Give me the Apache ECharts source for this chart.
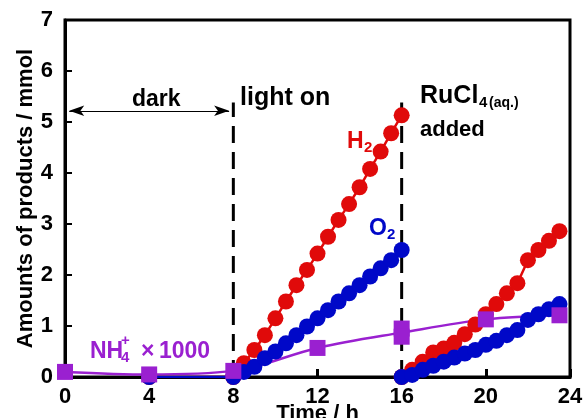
<!DOCTYPE html>
<html>
<head>
<meta charset="utf-8">
<script src="https://cdn.jsdelivr.net/npm/echarts@6/dist/echarts.min.js"></script>
<style>html,body{margin:0;padding:0;background:#fff}#c{width:586px;height:418px}</style>
</head>
<body>
<div id="c"></div>
<script>
// ---- data ----
var xTicks = [0, 4, 8, 12, 16, 20, 24];
var yTicks = [0, 1, 2, 3, 4, 5, 6, 7];
var h2TimeA = [4, 8, 8.5, 9, 9.5, 10, 10.5, 11, 11.5, 12, 12.5, 13, 13.5, 14, 14.5, 15, 15.5, 16];
var h2ValA  = [0, 0, 0.27, 0.53, 0.82, 1.15, 1.48, 1.80, 2.10, 2.42, 2.75, 3.08, 3.39, 3.72, 4.08, 4.42, 4.78, 5.13];
var o2TimeA = [4, 8, 8.5, 9, 9.5, 10, 10.5, 11, 11.5, 12, 12.5, 13, 13.5, 14, 14.5, 15, 15.5, 16];
var o2ValA  = [0, 0, 0.10, 0.20, 0.37, 0.50, 0.66, 0.82, 0.99, 1.15, 1.31, 1.48, 1.64, 1.80, 1.97, 2.13, 2.29, 2.49];
var h2TimeB = [16, 16.5, 17, 17.5, 18, 18.5, 19, 19.5, 20, 20.5, 21, 21.5, 22, 22.5, 23, 23.5];
var h2ValB  = [0, 0.14, 0.30, 0.48, 0.56, 0.67, 0.84, 1.03, 1.23, 1.43, 1.64, 1.84, 2.29, 2.49, 2.67, 2.86];
var o2TimeB = [16, 16.5, 17, 17.5, 18, 18.5, 19, 19.5, 20, 20.5, 21, 21.5, 22, 22.5, 23, 23.5];
var o2ValB  = [0, 0.04, 0.14, 0.22, 0.30, 0.38, 0.46, 0.53, 0.63, 0.71, 0.82, 0.92, 1.12, 1.23, 1.33, 1.43];
var nhTime  = [0, 4, 8, 12, 16, 16, 20, 23.5];
var nhVal   = [0.10, 0.05, 0.12, 0.57, 0.95, 0.79, 1.13, 1.21];
var nhCurveTime = [0, 4, 8, 12, 16, 20, 23.5];
var nhCurveVal  = [0.10, 0.05, 0.12, 0.57, 0.87, 1.13, 1.21];
var eventTimes = [8, 16];
var eventTop = 5.38;
var darkSpan = [0.2, 7.8];
var darkLevel = 5.22;

function pairs(xs, ys) { return xs.map(function (x, i) { return [x, ys[i]]; }); }

var RED = '#e00a0a', BLUE = '#0008c8', PURPLE = '#9a20d0';
var FONT = '"Liberation Sans", Arial, sans-serif';

var chart = echarts.init(document.getElementById('c'), null, {renderer: 'canvas'});

var series = [];
series.push({type: 'line', data: pairs(nhCurveTime, nhCurveVal), smooth: 0.35, symbol: 'none',
  lineStyle: {color: PURPLE, width: 2.5}, z: 1, silent: true});
[[h2TimeA, h2ValA], [h2TimeB, h2ValB]].forEach(function (d) {
  series.push({type: 'line', data: pairs(d[0], d[1]), symbol: 'circle', symbolSize: 16, showAllSymbol: true,
    itemStyle: {color: RED, opacity: 1}, lineStyle: {color: RED, width: 2.5}, z: 2});
});
[[o2TimeA, o2ValA], [o2TimeB, o2ValB]].forEach(function (d) {
  series.push({type: 'line', data: pairs(d[0], d[1]), symbol: 'circle', symbolSize: 16, showAllSymbol: true,
    itemStyle: {color: BLUE, opacity: 1}, lineStyle: {color: BLUE, width: 2.5}, z: 3});
});
series.push({type: 'scatter', data: pairs(nhTime, nhVal), symbol: 'rect', symbolSize: 16,
  itemStyle: {color: PURPLE, opacity: 1}, z: 4});
eventTimes.forEach(function (t) {
  series.push({type: 'line', data: [[t, 0], [t, eventTop]], symbol: 'none',
    lineStyle: {color: '#000', width: 3, type: [17, 9]}, z: 0});
});
series.push({type: 'line', data: [], markLine: {silent: true, symbol: ['arrow', 'arrow'], symbolSize: [8, 15],
  label: {show: false}, lineStyle: {color: '#000', width: 1, type: 'solid'},
  data: [[{coord: [darkSpan[0], darkLevel]}, {coord: [darkSpan[1], darkLevel]}]]}});

var txt = function (l, t, s, size, color) {
  return {type: 'text', left: l, top: t, z: 10, style: {text: s, font: 'bold ' + size + 'px ' + FONT, fill: color || '#000'}};
};

chart.setOption({
  animation: false,
  grid: {left: 65, right: 16, top: 20, bottom: 41, show: true, borderColor: '#000', borderWidth: 3,
    containLabel: false, outerBoundsMode: 'none'},
  xAxis: {type: 'value', min: 0, max: 24, interval: 4,
    name: 'Time / h', nameLocation: 'middle', nameGap: 26, nameMoveOverlap: false,
    nameTextStyle: {fontSize: 22, fontWeight: 'bold', fontFamily: FONT, color: '#000', verticalAlign: 'top'},
    axisLine: {lineStyle: {color: '#000', width: 3}},
    axisTick: {inside: true, length: 8, lineStyle: {width: 3, color: '#000'}},
    axisLabel: {fontSize: 22, fontWeight: 'bold', fontFamily: FONT, color: '#000', margin: 9,
      formatter: function (v) { return xTicks.indexOf(v) >= 0 ? String(v) : ''; }},
    splitLine: {show: false}},
  yAxis: {type: 'value', min: 0, max: 7, interval: 1,
    name: 'Amounts of products / mmol', nameLocation: 'middle', nameGap: 28, nameMoveOverlap: false,
    nameTextStyle: {fontSize: 22, fontWeight: 'bold', fontFamily: FONT, color: '#000'},
    axisLine: {lineStyle: {color: '#000', width: 3}},
    axisTick: {inside: true, length: 7, lineStyle: {width: 2, color: '#000'}},
    axisLabel: {fontSize: 22, fontWeight: 'bold', fontFamily: FONT, color: '#000', margin: 12,
      formatter: function (v) { return yTicks.indexOf(v) >= 0 ? String(v) : ''; }},
    splitLine: {show: false}},
  series: series,
  graphic: [
    txt(132, 88, 'dark', 23),
    txt(240, 86, 'light on', 25),
    txt(420, 84, 'RuCl', 25),
    txt(479, 95, '4', 15),
    txt(489, 96, '(aq.)', 14),
    txt(420, 119, 'added', 22),
    txt(347, 130, 'H', 23, RED),
    txt(364, 140, '2', 15, RED),
    txt(369, 217, 'O', 23, BLUE),
    txt(387, 227, '2', 15, BLUE),
    txt(90, 340, 'NH', 23, PURPLE),
    txt(121, 350, '4', 15, PURPLE),
    txt(121, 333, '+', 15, PURPLE),
    txt(141, 340, '\u00d7', 23, PURPLE),
    txt(159, 340, '1000', 23, PURPLE)
  ]
});
</script>
</body>
</html>
